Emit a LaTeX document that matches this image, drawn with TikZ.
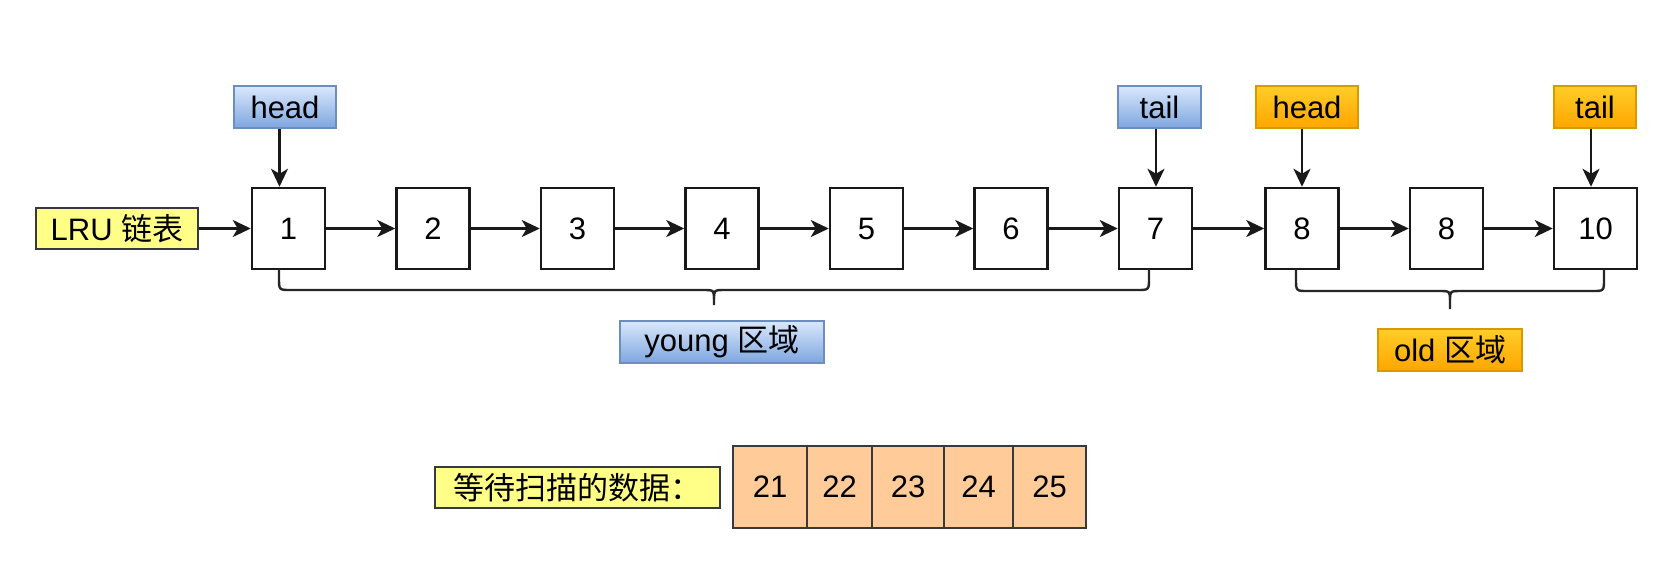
\documentclass[tikz,border=0pt]{standalone}
\usepackage{fontspec}
\setmainfont{Liberation Sans}
\newfontfamily\cjk{Noto Sans CJK SC}
\usetikzlibrary{arrows.meta}
\definecolor{bluetop}{HTML}{DAE8FC}
\definecolor{bluebot}{HTML}{7EA6E0}
\definecolor{blueline}{HTML}{6C8EBF}
\definecolor{ortop}{HTML}{FFCD28}
\definecolor{orbot}{HTML}{FFA500}
\definecolor{orline}{HTML}{D79B00}
\definecolor{yel}{HTML}{FFFF88}
\definecolor{salmon}{HTML}{FFCC99}
\definecolor{dline}{HTML}{36393D}
\begin{document}
\begin{tikzpicture}[x=1pt,y=-1pt,
  every node/.style={font=\fontsize{31}{36}\selectfont, inner sep=0pt, line width=2.2pt},
  nodebox/.style={draw=black!90, fill=white, line width=2.5pt, minimum width=73pt, minimum height=81pt},
  bluetag/.style={draw=blueline, top color=bluetop, bottom color=bluebot, minimum height=42pt},
  ortag/.style={draw=orline, top color=ortop, bottom color=orbot, minimum height=42pt},
  yeltag/.style={draw=dline, fill=yel, line width=2.5pt, minimum height=41pt},
  cell/.style={draw=dline, fill=salmon, minimum height=82pt},
  arr/.style={line width=2.4pt, draw=black!90, -{Stealth[length=18pt,width=17pt,inset=5pt]}},
  bracepath/.style={line width=2.4pt, draw=black!85}
]
\useasboundingbox (0,0) rectangle (1665,563);

% list boxes
\node[nodebox] (b1) at (288.5,228.5) {1};
\node[nodebox] (b2) at (433,228.5) {2};
\node[nodebox] (b3) at (577.5,228.5) {3};
\node[nodebox] (b4) at (722,228.5) {4};
\node[nodebox] (b5) at (866.5,228.5) {5};
\node[nodebox] (b6) at (1011,228.5) {6};
\node[nodebox] (b7) at (1155.5,228.5) {7};
\node[nodebox] (b8) at (1302,228.5) {8};
\node[nodebox] (b9) at (1446.5,228.5) {8};
\node[nodebox, minimum width=83pt] (b10) at (1595.5,228.5) {10};

% LRU label
\node[yeltag, minimum width=162pt] (lru) at (117,228.5) {LRU {\cjk 链表}};

% pointer tags
\node[bluetag, minimum width=102pt] (h1) at (285,107) {head};
\node[bluetag, minimum width=83pt] (t1) at (1159.5,107) {tail};
\node[ortag, minimum width=102pt] (h2) at (1307,107) {head};
\node[ortag, minimum width=82pt] (t2) at (1595,107) {tail};

% region labels
\node[bluetag, minimum width=204pt] (young) at (722,342) {young {\cjk 区域}};
\node[ortag, minimum width=144pt] (old) at (1450,350) {old {\cjk 区域}};

% horizontal arrows
\draw[arr] (lru.east) -- (b1.west);
\foreach \a/\b in {b1/b2,b2/b3,b3/b4,b4/b5,b5/b6,b6/b7,b7/b8,b8/b9,b9/b10}
  \draw[arr] (\a.east) -- (\b.west);

% pointer arrows
\draw[arr] ([xshift=-9pt]b1.north |- h1.south) -- ([xshift=-9pt]b1.north);
\draw[arr] ([xshift=0.5pt]b7.north |- t1.south) -- ([xshift=0.5pt]b7.north);
\draw[arr] (b8.north |- h2.south) -- (b8.north);
\draw[arr] ([xshift=-4.5pt]b10.north |- t2.south) -- ([xshift=-4.5pt]b10.north);

% young brace
\draw[bracepath] (279,269) -- (279,278) .. controls (279,290) .. (291,290) -- (702,290)
  .. controls (714,290) .. (714,299) -- (714,305);
\draw[bracepath] (714,299) .. controls (714,290) .. (726,290) -- (1137,290)
  .. controls (1149,290) .. (1149,278) -- (1149,269);

% old brace
\draw[bracepath] (1296,269) -- (1296,279) .. controls (1296,291) .. (1308,291) -- (1438,291)
  .. controls (1450,291) .. (1450,300) -- (1450,309);
\draw[bracepath] (1450,300) .. controls (1450,291) .. (1462,291) -- (1592,291)
  .. controls (1604,291) .. (1604,279) -- (1604,269);

% waiting data
\node[yeltag, minimum width=285pt] (wait) at (577.5,487.5) {\cjk 等待扫描的数据：};
\node[cell, minimum width=74pt] (c1) at (770,487) {21};
\node[cell, minimum width=65pt] (c2) at (839.5,487) {22};
\node[cell, minimum width=72pt] (c3) at (908,487) {23};
\node[cell, minimum width=69pt] (c4) at (978.5,487) {24};
\node[cell, minimum width=73pt] (c5) at (1049.5,487) {25};
\end{tikzpicture}
\end{document}
